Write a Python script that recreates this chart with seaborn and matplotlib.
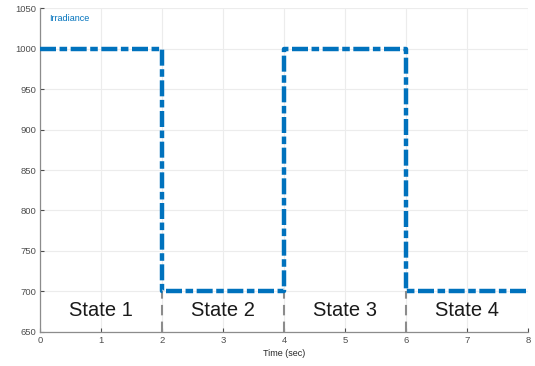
import matplotlib
matplotlib.use("Agg")
import matplotlib.pyplot as plt
import seaborn as sns
import pandas as pd

# Irradiance profile (step changes every 2 s)
time_sec = [0, 2, 4, 6, 8]
irradiance = [1000, 700, 1000, 700, 700]

# Operating states shown between the steps
state_labels = ["State 1", "State 2", "State 3", "State 4"]
state_centers = [1, 3, 5, 7]
state_bounds = [2, 4, 6]

x_ticks = [0, 1, 2, 3, 4, 5, 6, 7, 8]
y_ticks = [650, 700, 750, 800, 850, 900, 950, 1000, 1050]

sns.set_theme(style="whitegrid")
plt.rcParams["font.family"] = ["Liberation Sans", "DejaVu Sans"]

fig = plt.figure(figsize=(5.35, 3.66), dpi=100)
ax = fig.add_axes([0.075, 0.093, 0.912, 0.885])

df = pd.DataFrame({"Time (sec)": time_sec, "Irradiance": irradiance})
sns.lineplot(data=df, x="Time (sec)", y="Irradiance", ax=ax,
             drawstyle="steps-post", color="#0072BD", linewidth=3.2,
             dashes=False, linestyle=(0, (3.6, 0.8, 1.7, 0.8)), zorder=3)

ax.vlines(state_bounds, 650, 700, colors="#8C8C8C", linestyles=(0, (5, 3)),
          linewidth=1.5, zorder=2)

for name, xc in zip(state_labels, state_centers):
    ax.text(xc, 676, name, ha="center", va="center", fontsize=14.5,
            color="#1a1a1a")

ax.text(0.15, 1037, "Irradiance", color="#0072BD", fontsize=6.5,
        ha="left", va="center")

ax.set_xlim(0, 8)
ax.set_ylim(650, 1050)
ax.set_xticks(x_ticks)
ax.set_yticks(y_ticks)
ax.set_xlabel("Time (sec)", fontsize=6.5, color="#262626", labelpad=3)
ax.set_ylabel("")
ax.tick_params(axis="both", labelsize=6.8, colors="#4d4d4d", direction="in",
               length=3, width=0.8, pad=3)
ax.tick_params(axis="both", which="both", bottom=True, left=True)
ax.grid(True, color="#ececec", linewidth=0.8)
for side in ["top", "right"]:
    ax.spines[side].set_visible(False)
for side in ["left", "bottom"]:
    ax.spines[side].set_color("#8c8c8c")
    ax.spines[side].set_linewidth(0.9)

fig.savefig("out.png", dpi=100)
